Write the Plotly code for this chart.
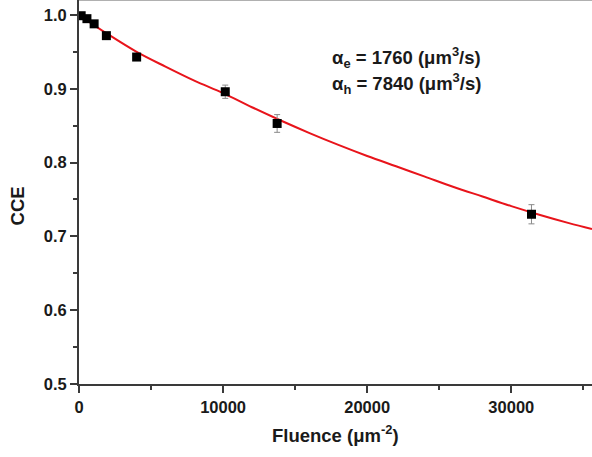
import plotly.graph_objects as go

# Measured charge collection efficiency vs fluence
fluence = [150, 550, 1050, 1900, 4000, 10150, 13750, 31400]
cce = [0.999, 0.995, 0.988, 0.972, 0.943, 0.896, 0.853, 0.730]
cce_err = [0.002, 0.002, 0.003, 0.003, 0.004, 0.009, 0.012, 0.013]

# Fitted trapping model curve
fit_fluence = [0, 2000, 4000, 6000, 8000, 10000, 12000, 14000, 16000, 18000,
               20000, 22000, 24000, 26000, 28000, 30000, 32000, 34000, 35600]
fit_cce = [1.000, 0.974, 0.950, 0.930, 0.911, 0.894, 0.875, 0.857, 0.840, 0.824,
           0.809, 0.795, 0.781, 0.767, 0.754, 0.741, 0.729, 0.718, 0.710]

x_ticks = [0, 10000, 20000, 30000]
y_ticks = [0.5, 0.6, 0.7, 0.8, 0.9, 1.0]

FONT = "Liberation Sans"
TEXT_COLOR = "#1a1a1a"
AXIS_COLOR = "#3a3a3a"

fig = go.Figure()

fig.add_trace(go.Scatter(
    x=fit_fluence, y=fit_cce, mode="lines",
    line=dict(color="#e8141b", width=2, shape="spline"),
    hoverinfo="skip", showlegend=False,
))

fig.add_trace(go.Scatter(
    x=fluence, y=cce, mode="markers",
    marker=dict(symbol="square", size=9, color="black"),
    error_y=dict(type="data", array=cce_err, color="#8a8a8a", thickness=1, width=3),
    showlegend=False,
))

axis_common = dict(
    showgrid=False, zeroline=False,
    showline=True, linecolor=AXIS_COLOR, linewidth=2,
    ticks="outside", ticklen=7, tickwidth=2, tickcolor=AXIS_COLOR,
    tickfont=dict(family=FONT, size=16.5, weight="bold", color=TEXT_COLOR),
)

fig.update_layout(
    width=592, height=457,
    margin=dict(l=79, r=0, t=0, b=73),
    paper_bgcolor="white", plot_bgcolor="white",
    font=dict(family=FONT, color=TEXT_COLOR),
    xaxis=dict(
        range=[0, 35600], tickvals=x_ticks, ticktext=[str(v) for v in x_ticks],
        minor=dict(dtick=5000, tick0=0, ticks="outside", ticklen=4,
                   tickwidth=2, tickcolor=AXIS_COLOR),
        **axis_common,
    ),
    yaxis=dict(
        range=[0.5, 1.0203], tickvals=y_ticks, ticktext=[f"{v:.1f}" for v in y_ticks],
        minor=dict(dtick=0.05, tick0=0.5, ticks="outside", ticklen=4,
                   tickwidth=2, tickcolor=AXIS_COLOR),
        **axis_common,
    ),
    shapes=[dict(type="line", xref="paper", yref="paper", x0=0, x1=1, y0=1, y1=1,
                 line=dict(color="#b0b0b0", width=2))],
    annotations=[
        dict(text="Fluence (μm<sup>-2</sup>)", xref="paper", yref="paper",
             x=0.5, y=-0.095, yanchor="top", showarrow=False,
             font=dict(family=FONT, size=18.5, weight="bold", color=TEXT_COLOR)),
        dict(text="CCE", xref="paper", yref="paper", x=-0.12, xanchor="center",
             y=1 - 206 / 384, textangle=-90, showarrow=False,
             font=dict(family=FONT, size=18.5, weight="bold", color=TEXT_COLOR)),
        dict(text="α<sub>e</sub> = 1760 (μm<sup>3</sup>/s)", xref="paper", yref="paper",
             x=(330 - 79) / 513, y=1 - 57 / 384, xanchor="left", yanchor="middle",
             showarrow=False,
             font=dict(family=FONT, size=18.5, weight="bold", color=TEXT_COLOR)),
        dict(text="α<sub>h</sub> = 7840 (μm<sup>3</sup>/s)", xref="paper", yref="paper",
             x=(330 - 79) / 513, y=1 - 83 / 384, xanchor="left", yanchor="middle",
             showarrow=False,
             font=dict(family=FONT, size=18.5, weight="bold", color=TEXT_COLOR)),
    ],
)

fig.write_html("out.html")
